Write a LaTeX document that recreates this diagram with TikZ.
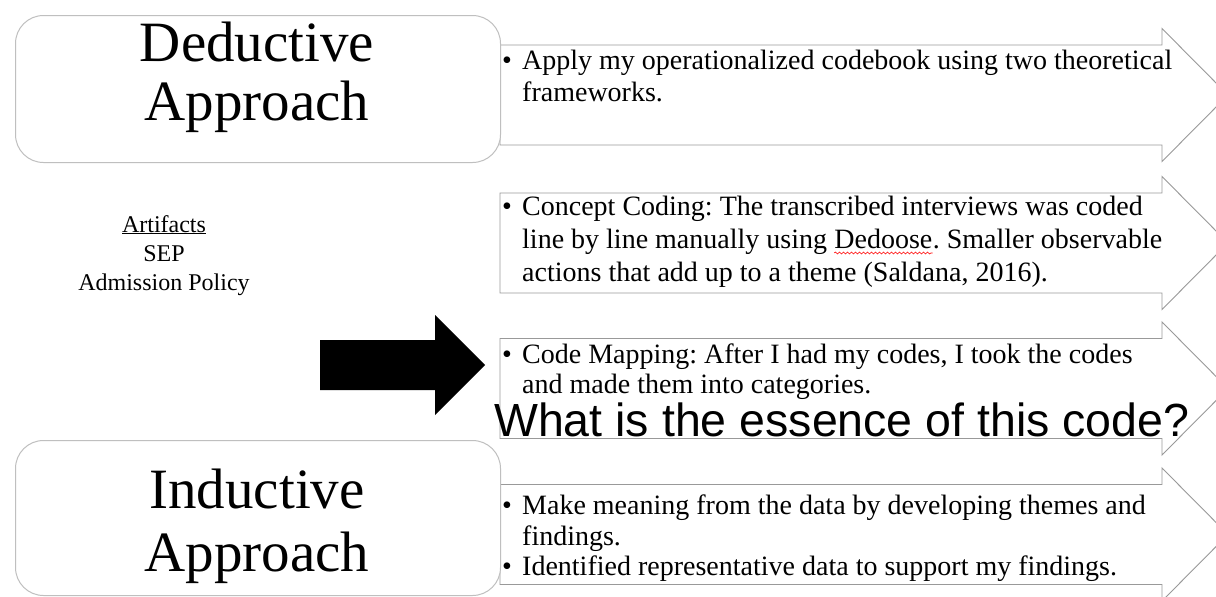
\documentclass[tikz,border=0pt]{standalone}
\usepackage{fontspec}
\setmainfont{Liberation Serif}
\newfontfamily\arialf{Liberation Sans}
\usetikzlibrary{decorations.pathmorphing}
\tikzset{
  arrowline/.style={draw=gray!80, line width=0.9pt, fill=white},
  roundbox/.style={draw=gray!50, line width=1pt, fill=white, rounded corners=28pt},
  bodytext/.style={anchor=base west, inner sep=0pt, font=\fontsize{28}{33}\selectfont},
  bigtext/.style={anchor=base, inner sep=0pt, font=\fontsize{57}{60}\selectfont},
  smalltext/.style={anchor=base, inner sep=0pt, font=\fontsize{24}{29}\selectfont},
  essence/.style={anchor=base west, inner sep=0pt, font=\arialf\fontsize{46.5}{50}\selectfont},
  bigarrow/.pic={
    \draw[arrowline] (0,-50) -- (662,-50) -- (662,-66.5) -- (728,0) -- (662,66.5) -- (662,50) -- (0,50) -- cycle;
  }
}
\begin{document}
\frenchspacing
\begin{tikzpicture}[x=1pt,y=-1pt]
\useasboundingbox (0,0) rectangle (1216,597);
\clip (0,0) rectangle (1216,597);
\fill[white] (0,0) rectangle (1216,597);

% chevron arrows
\pic at (500,95) {bigarrow};
\pic at (500,243) {bigarrow};
\pic at (500,388.5) {bigarrow};
\pic at (500,534.5) {bigarrow};

% arrow 1 text
\node[bodytext] (b1) at (502,69) {•};
\node[bodytext] (t1a) at (522,69) {Apply my operationalized codebook using two theoretical};
\node[bodytext] (t1b) at (522,101) {frameworks.};

% arrow 2 text
\node[bodytext] (b2) at (502,215) {•};
\node[bodytext] (t2a) at (522,215) {Concept Coding: The transcribed interviews was coded};
\node[bodytext] (t2b) at (522,248) {line by line manually using\kern0.25em};
\node[bodytext] (t2c) at (t2b.base east) {Dedoose};
\node[bodytext] (t2d) at (t2c.base east) {. Smaller observable};
\node[bodytext] (t2e) at (522,281) {actions that add up to a theme (Saldana, 2016).};
\draw[red, line width=0.6pt, decorate, decoration={snake, amplitude=1pt, segment length=4pt}]
  ([yshift=-5pt]t2c.base west) -- ([yshift=-5pt]t2c.base east);

% arrow 3 text
\node[bodytext] (b3) at (502,363) {•};
\node[bodytext] (t3a) at (522,363) {Code Mapping: After I had my codes, I took the codes};
\node[bodytext] (t3b) at (522,393) {and made them into categories.};

% arrow 4 text
\node[bodytext] (b4) at (502,514) {•};
\node[bodytext] (t4a) at (522,514) {Make meaning from the data by developing themes and};
\node[bodytext] (t4b) at (522,545) {findings.};
\node[bodytext] (b5) at (502,575) {•};
\node[bodytext] (t4c) at (522,575) {Identified representative data to support my findings.};

% rounded boxes
\node[roundbox, minimum width=485pt, minimum height=147pt, anchor=north west] (ded) at (15,15) {};
\node[bigtext] (dedA) at (257,61) {Deductive};
\node[bigtext] (dedB) at (257,120) {Approach};

\node[roundbox, minimum width=485pt, minimum height=155pt, anchor=north west] (ind) at (15,440) {};
\node[bigtext] (indA) at (257,508) {Inductive};
\node[bigtext] (indB) at (257,571) {Approach};

% artifacts
\node[smalltext] (art) at (164,232) {\underline{Artifacts}};
\node[smalltext] (sep) at (164,261) {SEP};
\node[smalltext] (adm) at (164,290) {Admission Policy};

% black block arrow
\fill[black] (320,340) -- (435,340) -- (435,315) -- (485,365) -- (435,415) -- (435,390) -- (320,390) -- cycle;

% essence text
\node[essence] (ess) at (494,436) {What is the essence of this code?};
\end{tikzpicture}
\end{document}
